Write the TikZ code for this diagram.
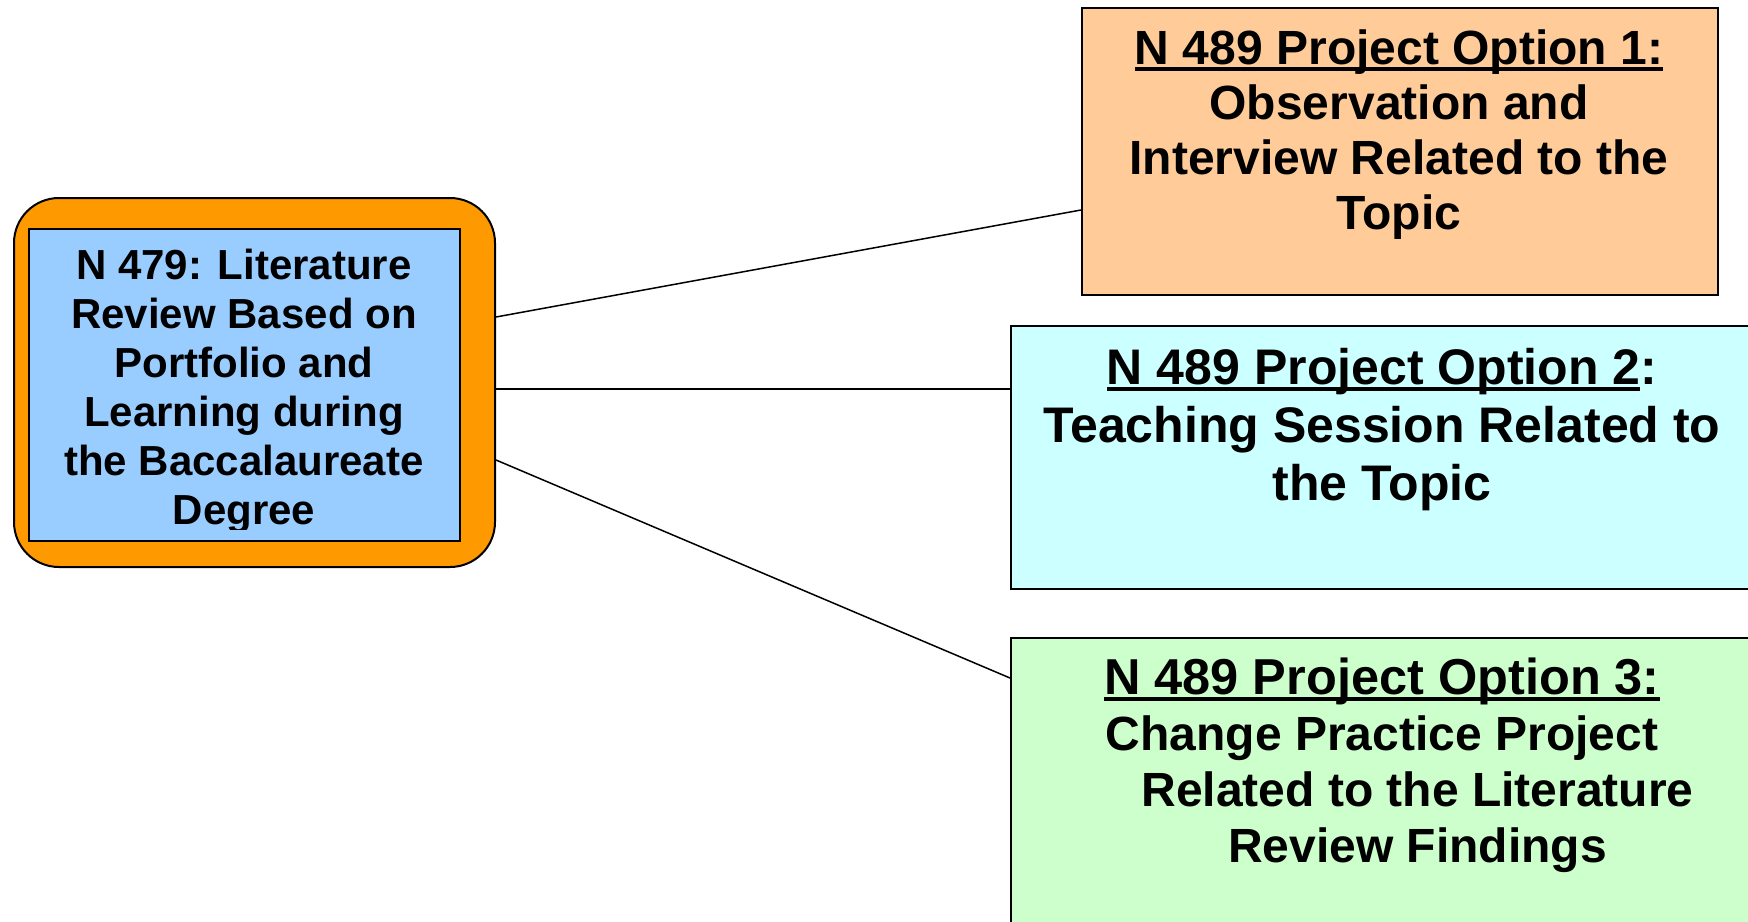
\documentclass[tikz,border=0pt]{standalone}
\usepackage{fontspec}
\setmainfont{Liberation Sans}
\usetikzlibrary{calc}
\definecolor{outerorange}{HTML}{FF9900}
\definecolor{innerblue}{HTML}{99CCFF}
\definecolor{peach}{HTML}{FFCC99}
\definecolor{lightcyan}{HTML}{CCFFFF}
\definecolor{lightgreen}{HTML}{CCFFCC}
\newcommand{\myul}[1]{\setbox0\hbox{#1}\rlap{\rule[-7pt]{\wd0}{4pt}}\box0}
\newcommand{\bodyfont}{\fontsize{48}{56}\selectfont}
\begin{document}
\begin{tikzpicture}[x=1pt,y=-1pt,
  optbox/.style={draw=black, line width=2pt, inner sep=0pt, anchor=north west},
  boxtext/.style={align=center, anchor=base, inner sep=0pt},
  link/.style={draw=black, line width=1.5pt}]
\useasboundingbox (0,0) rectangle (1748,921);
% main box
\node[draw=black, line width=2pt, fill=outerorange, rounded corners=45pt,
      minimum width=481pt, minimum height=369pt, anchor=north west, inner sep=0pt] (outer) at (13,197) {};
\node[optbox, fill=innerblue, minimum width=431pt, minimum height=312pt] (main) at (28,228) {};
\begin{scope}
\clip (28,228) rectangle (460,529);
\node[boxtext, font=\bfseries\fontsize{42}{49}\selectfont] (maintext) at (244,524)
  {N 479: Literature\\Review Based on\\Portfolio and\\Learning during\\the Baccalaureate\\Degree};
\end{scope}
% option boxes
\node[optbox, fill=peach, minimum width=636pt, minimum height=287pt] (b1) at (1081,7) {};
\node[boxtext, font=\bfseries\fontsize{48}{55}\selectfont] (b1text) at (1399,229)
  {\myul{N 489 Project Option 1:}\\Observation and\\Interview Related to the\\Topic};
\node[optbox, fill=lightcyan, minimum width=760pt, minimum height=263pt] (b2) at (1010,325) {};
\node[boxtext, font=\bfseries\fontsize{50}{58}\selectfont] (b2text) at (1382,500)
  {\myul{N 489 Project Option 2}:\\Teaching Session Related to\\the Topic};
\node[optbox, fill=lightgreen, minimum width=760pt, minimum height=300pt] (b3) at (1010,637) {};
\node[boxtext, font=\bfseries\fontsize{50.5}{56}\selectfont] (b3text) at (1382,862)
  {\myul{N 489 Project Option 3:}\\\bodyfont Change Practice Project\\\bodyfont\hspace*{71pt}Related to the Literature\\\bodyfont\hspace*{71pt}Review Findings};
% connectors
\draw[link] (outer.east |- 0,317) -- (b1.west |- 0,210);
\draw[link] (outer.east |- 0,389) -- (b2.west |- 0,389);
\draw[link] (outer.east |- 0,460) -- (b3.west |- 0,678);
\end{tikzpicture}
\end{document}
